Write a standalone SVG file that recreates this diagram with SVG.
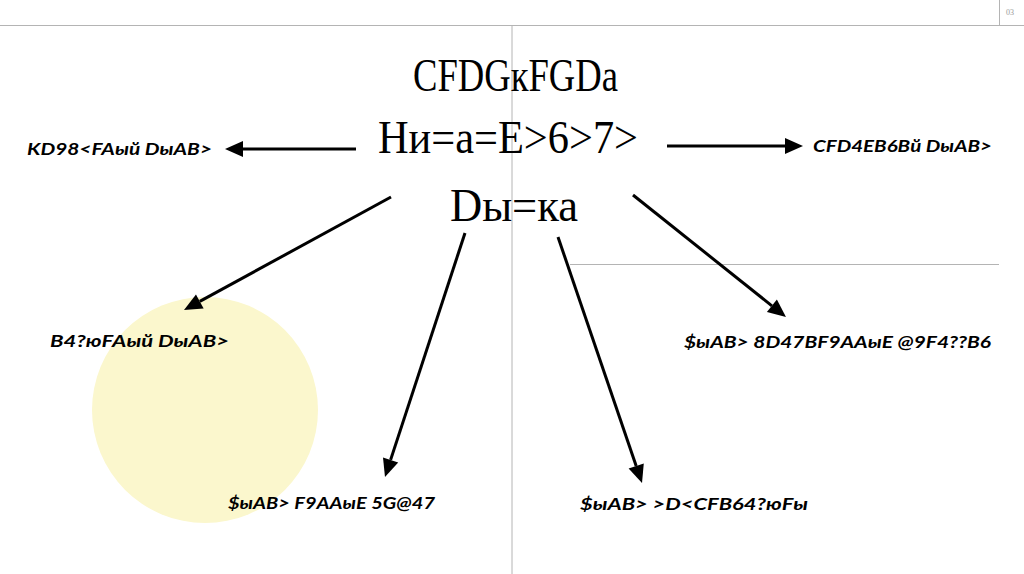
<svg xmlns="http://www.w3.org/2000/svg" width="1024" height="574" viewBox="0 0 1024 574">
<style>
.frame{stroke:#b4b4b4;stroke-width:1;fill:none}
.title{font-family:"Liberation Serif","Times New Roman",serif;font-size:47px;fill:#000}
.lbl{font-family:Lato,"Liberation Sans",Arial,sans-serif;font-size:17px;font-weight:bold;font-style:italic;fill:#000}
.conn{stroke:#000;stroke-width:3;fill:none;marker-end:url(#ah)}
</style>
<defs>
<marker id="ah" markerUnits="userSpaceOnUse" markerWidth="18" markerHeight="16" refX="0" refY="8" orient="auto" overflow="visible">
<path d="M0,0 L18,8 L0,16 z" fill="#000"/>
</marker>
</defs>
<rect x="0" y="0" width="1024" height="574" fill="#fff"/>
<g id="frame">
<line class="frame" x1="0" y1="25.5" x2="1024" y2="25.5"/>
<line class="frame" x1="999.5" y1="0" x2="999.5" y2="25"/>
<line class="frame" x1="512" y1="25" x2="512" y2="574"/>
<line class="frame" x1="570" y1="264.5" x2="999" y2="264.5"/>
<text x="1006" y="15" font-family="Liberation Serif,serif" font-size="8" fill="#999">03</text>
</g>
<g id="circle">
<circle cx="205" cy="410" r="113" fill="#fbf7cd"/>
</g>
<g id="title">
<text class="title" x="413" y="91" textLength="205" lengthAdjust="spacingAndGlyphs">CFDGкFGDa</text>
<text class="title" x="378" y="153" textLength="260" lengthAdjust="spacingAndGlyphs">Ни=а=Е&gt;6&gt;7&gt;</text>
<text class="title" x="450" y="221" textLength="128" lengthAdjust="spacingAndGlyphs">Dы=ка</text>
</g>
<g id="connectors">
<line class="conn" x1="356" y1="149" x2="243" y2="149"/>
<line class="conn" x1="667" y1="146" x2="785" y2="146"/>
<line class="conn" x1="391" y1="197" x2="199.8" y2="301.4"/>
<line class="conn" x1="465" y1="233" x2="390.6" y2="459.9"/>
<line class="conn" x1="558" y1="237" x2="636.2" y2="466"/>
<line class="conn" x1="633" y1="195" x2="771.9" y2="305.8"/>
</g>
<g id="n1"><text class="lbl" x="27" y="155" textLength="185" lengthAdjust="spacingAndGlyphs">KD98&lt;FAый DыAB&gt;</text></g>
<g id="n2"><text class="lbl" x="813" y="152" textLength="179" lengthAdjust="spacingAndGlyphs">CFD4EB6Bй DыAB&gt;</text></g>
<g id="n3"><text class="lbl" x="50" y="347" textLength="179" lengthAdjust="spacingAndGlyphs">B4?юFAый DыAB&gt;</text></g>
<g id="n4"><text class="lbl" x="228" y="509" textLength="207" lengthAdjust="spacingAndGlyphs">$ыAB&gt; F9AAыE 5G@47</text></g>
<g id="n5"><text class="lbl" x="580" y="510" textLength="228" lengthAdjust="spacingAndGlyphs">$ыAB&gt; &gt;D&lt;CFB64?юFы</text></g>
<g id="n6"><text class="lbl" x="684" y="348" textLength="307" lengthAdjust="spacingAndGlyphs">$ыAB&gt; 8D47BF9AAыE @9F4??B6</text></g>
</svg>
